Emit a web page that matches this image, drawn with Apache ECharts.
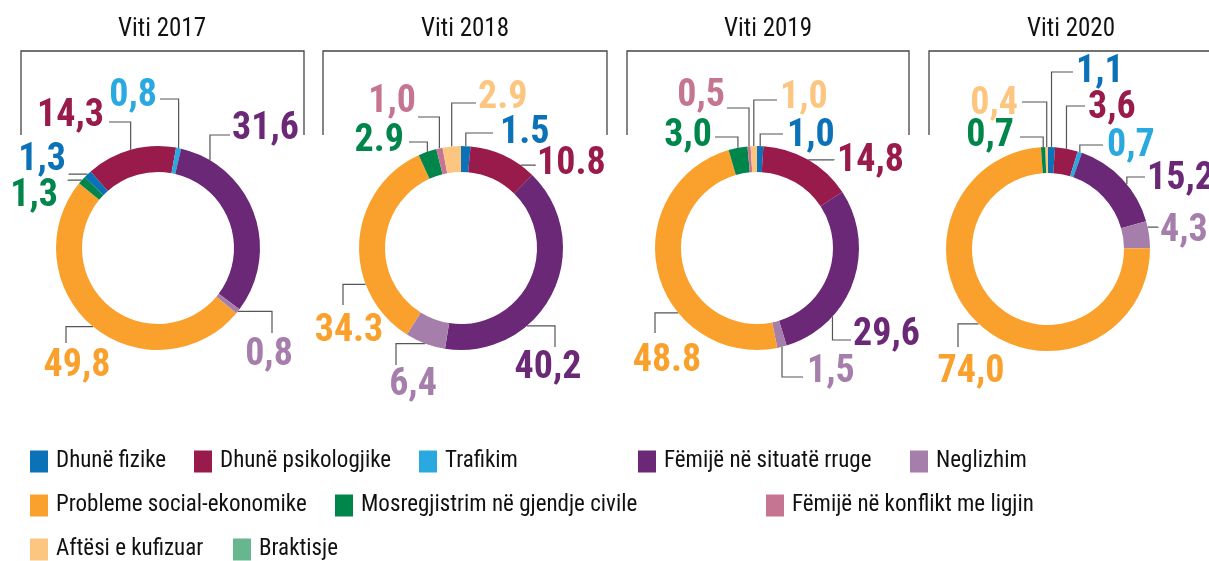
<!DOCTYPE html>
<html>
<head>
<meta charset="utf-8">
<script src="https://cdn.jsdelivr.net/npm/echarts@6/dist/echarts.min.js"></script>
<style>
  html, body { margin: 0; padding: 0; background: #fff; }
  #c { width: 1209px; height: 561px; }
</style>
</head>
<body>
<div id="c"></div>
<script>
// kategorite dhe vlerat (%) per cdo vit
var categories = ['Dhunë fizike', 'Dhunë psikologjike', 'Trafikim', 'Fëmijë në situatë rruge', 'Neglizhim',
  'Probleme social-ekonomike', 'Mosregjistrim në gjendje civile', 'Fëmijë në konflikt me ligjin',
  'Aftësi e kufizuar', 'Braktisje'];
var years = ['Viti 2017', 'Viti 2018', 'Viti 2019', 'Viti 2020'];
var values2017 = [1.3, 14.3, 0.8, 31.6, 0.8, 49.8, 1.3, 0, 0, 0];
var values2018 = [1.5, 10.8, 0, 40.2, 6.4, 34.3, 2.9, 1.0, 2.9, 0];
var values2019 = [1.0, 14.8, 0, 29.6, 1.5, 48.8, 3.0, 0.5, 1.0, 0];
var values2020 = [1.1, 3.6, 0.7, 15.2, 4.3, 74.0, 0.7, 0, 0.4, 0];
// tekstet e etiketave si ne origjinal
var labels2017 = ['1,3', '14,3', '0,8', '31,6', '0,8', '49,8', '1,3', '', '', ''];
var labels2018 = ['1.5', '10.8', '', '40,2', '6,4', '34.3', '2.9', '1,0', '2.9', ''];
var labels2019 = ['1,0', '14,8', '', '29,6', '1,5', '48.8', '3,0', '0,5', '1,0', ''];
var labels2020 = ['1,1', '3,6', '0,7', '15,2', '4,3', '74,0', '0,7', '', '0,4', ''];

var colors = ['#0b72b8', '#981b4b', '#2aa9e0', '#6a2876', '#a67eab', '#f9a12c', '#00854a', '#c57492', '#fcc680', '#66b68e'];

var allValues = [values2017, values2018, values2019, values2020];
var allLabels = [labels2017, labels2018, labels2019, labels2020];

// pozicionet
var centers = [[158, 248], [461, 248], [757, 248], [1048, 249]];
var startAngles = [136, 90, 90, 90];
var R0 = 76, R1 = 102;
var brackets = [[21, 304], [323, 607], [627, 909], [929, 1215]];
var titleX = [162, 465, 768, 1071];
var legendLeft = [30, 194, 419, 638, 910, 30, 335, 766, 30, 233];
var legendTop = [450, 450, 450, 450, 450, 494, 494, 494, 538, 538];

// [t ne segment, 'v'/'h', fund vije x, y, tekst x, y, align]
var labelPos = [
  [[0.5, 'h', 69, 174, 66, 160, 'right'], [0.5, 'v', 109, 122, 104, 116, 'right'], [0.5, 'v', 160, 99, 157, 96, 'right'],
   [0.154, 'v', 230, 135, 232, 129, 'left'], [0.5, 'h', 272, 333, 269, 355, 'center'], [0.5, 'h', 66, 343, 77, 366, 'center'],
   [0.5, 'h', 68, 180, 58, 196, 'right'], null, null, null],
  [[0.5, 'v', 493, 133, 500, 133, 'left'], [0.78, 'h', 535, 166, 537, 164, 'left'], null,
   [0.66, 'h', 555, 347, 548, 368, 'center'], [0.5, 'h', 396, 365, 413, 385, 'center'], [0.30, 'h', 343, 305, 349, 331, 'center'],
   [0.5, 'v', 409, 142, 404, 141, 'right'], [0.5, 'v', 418, 117, 416, 102, 'right'], [0.5, 'v', 476, 103, 478, 98, 'left'], null],
  [[0.5, 'v', 783, 134, 787, 136, 'left'], [0.5, 'h', 834, 160, 837, 161, 'left'], null,
   [0.71, 'v', 851, 340, 853, 335, 'left'], [0.5, 'v', 803, 377, 807, 372, 'left'], [0.354, 'h', 655, 333, 667, 361, 'center'],
   [0.5, 'v', 715, 137, 712, 136, 'right'], [0.5, 'v', 727, 108, 725, 96, 'right'], [0.5, 'v', 777, 100, 780, 98, 'left'], null],
  [[0.5, 'v', 1073, 72, 1076, 72, 'left'], [0.5, 'v', 1085, 106, 1088, 108, 'left'], [0.5, 'v', 1103, 145, 1107, 146, 'left'],
   [0.57, 'v', 1145, 177, 1147, 179, 'left'], [0.22, 'h', 1158, 227, 1160, 231, 'left'], [0.5, 'h', 958, 347, 971, 372, 'center'],
   [0.5, 'v', 1020, 137, 1014, 136, 'right'], null, [0.5, 'v', 1022, 102, 1018, 104, 'right'], null]
];

var FONT = '"Roboto Condensed", "DejaVu Sans Condensed", sans-serif';

function anchorPoint(si, di, t) {
  var vals = allValues[si];
  var total = 0, before = 0;
  for (var k = 0; k < vals.length; k++) {
    total += vals[k];
    if (k < di) before += vals[k];
  }
  var frac = (before + t * vals[di]) / total;
  var th = (90 - startAngles[si] + frac * 360) * Math.PI / 180;
  return [centers[si][0] + R1 * Math.sin(th), centers[si][1] - R1 * Math.cos(th)];
}

var chart = echarts.init(document.getElementById('c'));

var series = allValues.map(function (vals, si) {
  return {
    type: 'pie',
    center: centers[si],
    radius: [R0, R1],
    startAngle: startAngles[si],
    avoidLabelOverlap: false,
    silent: true,
    data: vals.map(function (v, i) {
      var on = v > 0;
      return {
        name: categories[i],
        value: v,
        itemStyle: { color: colors[i] },
        label: { show: on, color: colors[i] },
        labelLine: { show: on }
      };
    }),
    label: {
      position: 'outside',
      fontFamily: FONT,
      fontWeight: 'bold',
      fontSize: 38,
      formatter: function (p) { return allLabels[si][p.dataIndex]; }
    },
    labelLine: { show: true, lineStyle: { color: '#555', width: 1.2 } },
    labelLayout: function (p) {
      var L = labelPos[p.seriesIndex][p.dataIndex];
      if (!L) return {};
      var p0 = anchorPoint(p.seriesIndex, p.dataIndex, L[0]);
      var mid = L[1] === 'v' ? [p0[0], L[3]] : [L[2], p0[1]];
      return {
        x: L[4], y: L[5], align: L[6], verticalAlign: 'middle',
        labelLinePoints: [p0, mid, [L[2], L[3]]]
      };
    }
  };
});

var graphic = [];
years.forEach(function (y, i) {
  graphic.push({
    type: 'text', x: titleX[i], y: 30,
    style: { text: y, font: '25px ' + FONT, fill: '#111', align: 'center', verticalAlign: 'middle' }
  });
  graphic.push({
    type: 'polyline',
    shape: { points: [[brackets[i][0], 135], [brackets[i][0], 51], [brackets[i][1], 51], [brackets[i][1], 135]] },
    style: { stroke: '#444', lineWidth: 1.3, fill: null }
  });
});

var legend = categories.map(function (name, i) {
  return {
    data: [name],
    left: legendLeft[i],
    top: legendTop[i],
    padding: 0,
    icon: 'rect',
    itemWidth: 18,
    itemHeight: 22,
    selectedMode: false,
    textStyle: { fontFamily: FONT, fontSize: 23, color: '#111', padding: [0, 0, 0, 3] }
  };
});

chart.setOption({
  animation: false,
  legend: legend,
  graphic: graphic,
  series: series
});
</script>
</body>
</html>
